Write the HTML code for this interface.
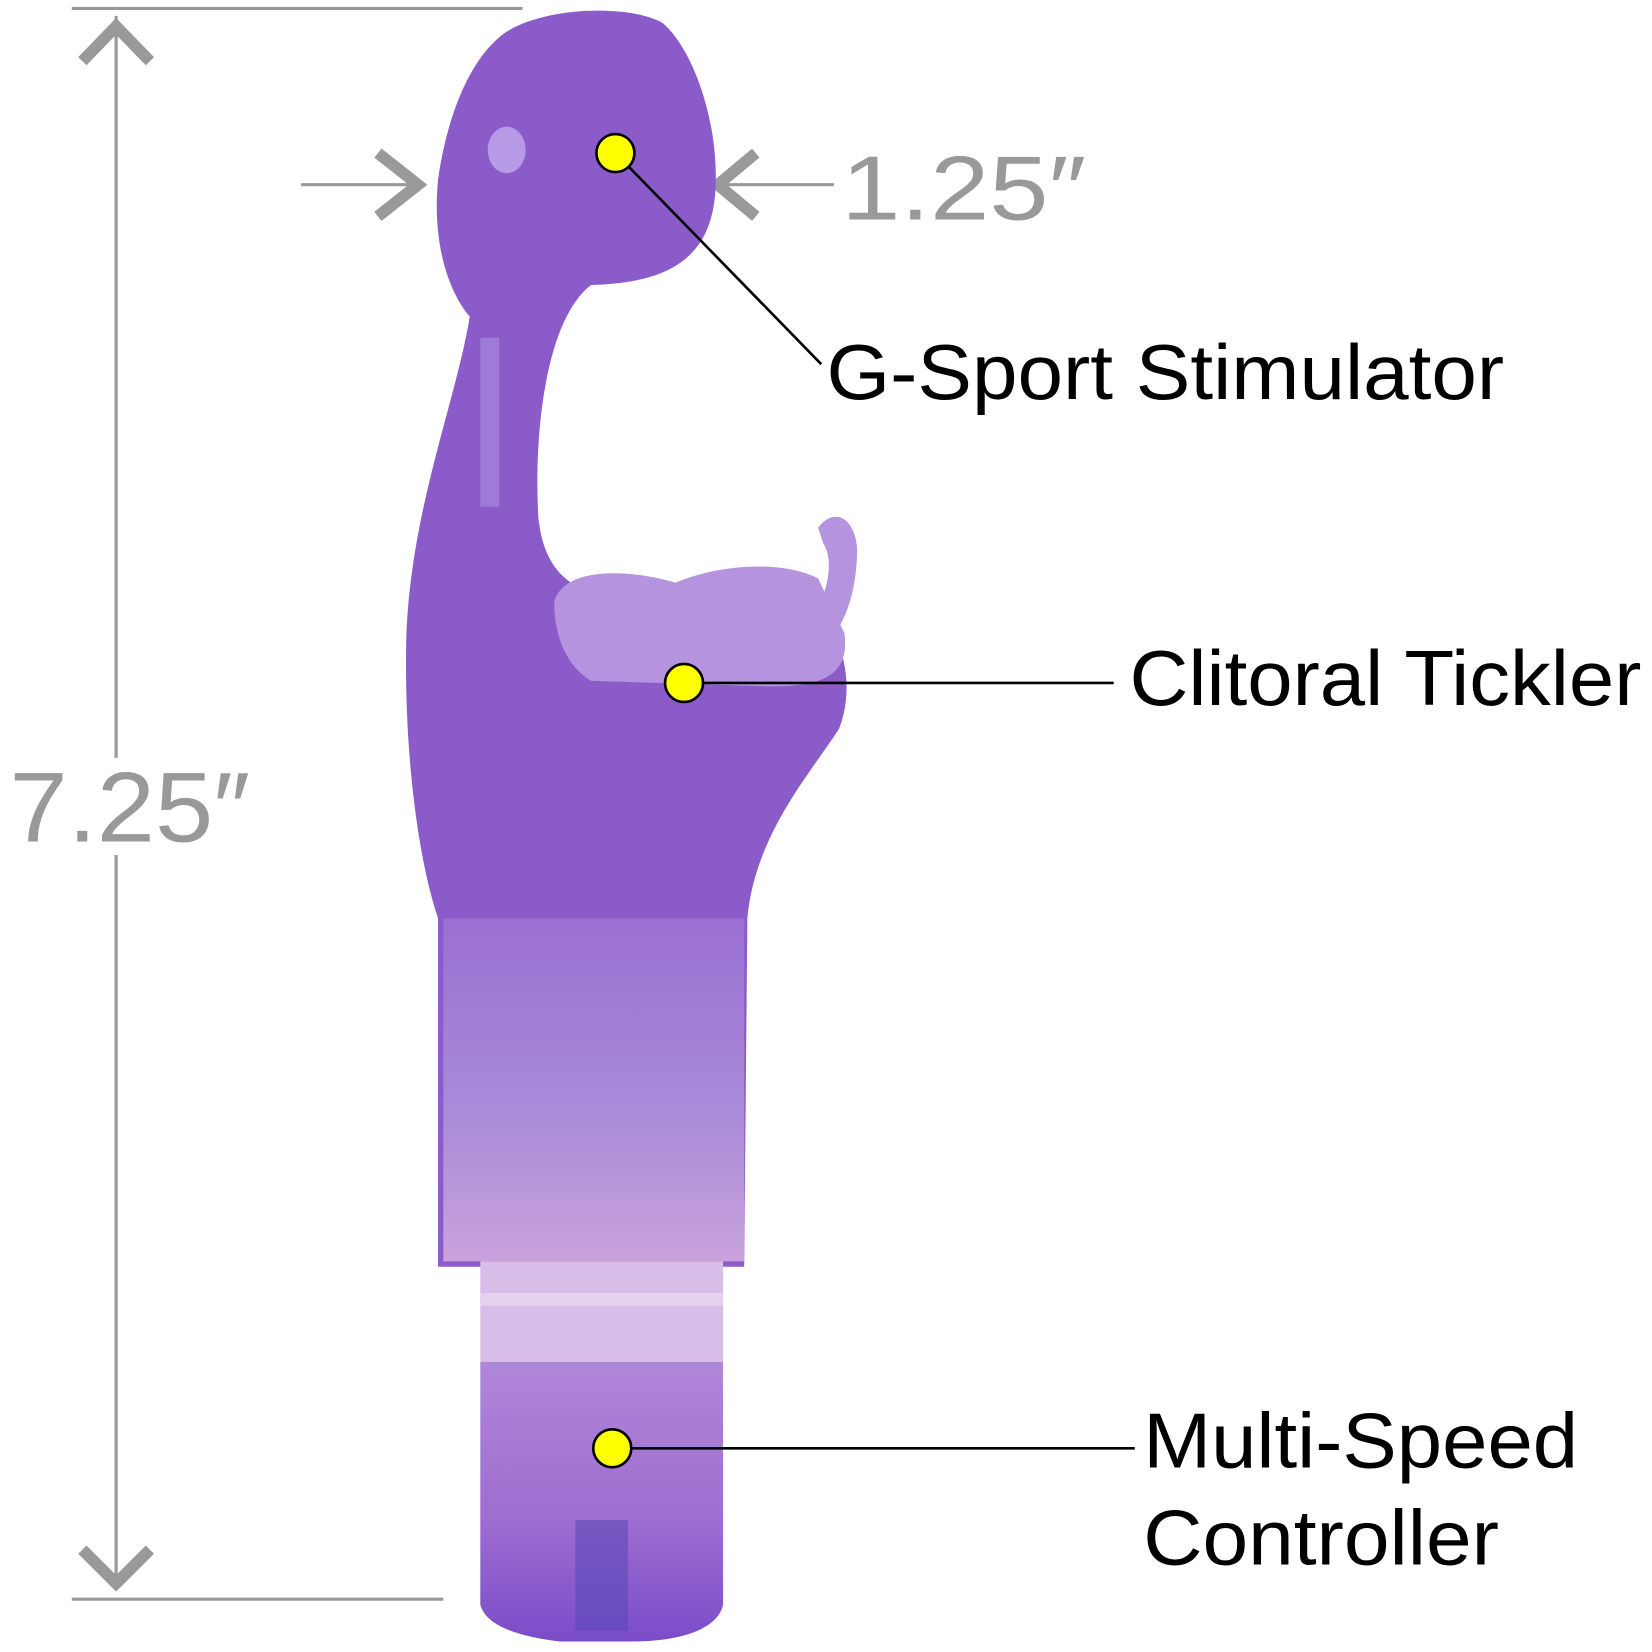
<!DOCTYPE html>
<html><head><meta charset="utf-8"><style>
html,body{margin:0;padding:0;background:#fff;width:1652px;height:1652px;overflow:hidden}
svg{display:block}
text{font-family:"Liberation Sans",sans-serif}
</style></head><body>
<svg width="1652" height="1652" viewBox="0 0 1565 1565" xmlns="http://www.w3.org/2000/svg">
<defs>
<linearGradient id="sl" x1="0" y1="0" x2="0" y2="1">
<stop offset="0" stop-color="#9a6fd2"/><stop offset="0.55" stop-color="#a98ad8"/><stop offset="1" stop-color="#c9a2dc"/>
</linearGradient>
<linearGradient id="ct" x1="0" y1="0" x2="0" y2="1">
<stop offset="0" stop-color="#b187d8"/><stop offset="0.6" stop-color="#9c6bd0"/><stop offset="1" stop-color="#7a4cc8"/>
</linearGradient>
</defs>
<g stroke="#999" fill="none">
<line x1="68" y1="8" x2="495" y2="8" stroke-width="3"/>
<line x1="110" y1="15" x2="110" y2="1505" stroke-width="3"/>
<line x1="68" y1="1515" x2="420" y2="1515" stroke-width="3"/>
<polyline points="78,58 110,25 142,58" stroke-width="11"/>
<polyline points="78,1468 110,1500 142,1468" stroke-width="11"/>
<line x1="285" y1="175" x2="398" y2="175" stroke-width="3"/>
<polyline points="358,145 396,175 358,205" stroke-width="11"/>
<line x1="678" y1="175" x2="790" y2="175" stroke-width="3"/>
<polyline points="716,145 680,175 716,205" stroke-width="11"/>
</g>
<rect x="90" y="718" width="40" height="92" fill="#fff"/>
<text x="9" y="797" font-size="94" fill="#999" textLength="228" lengthAdjust="spacingAndGlyphs">7.25″</text>
<text x="797" y="208" font-size="86" fill="#999" textLength="232" lengthAdjust="spacingAndGlyphs">1.25″</text>
<path d="M480,30 C520,5 600,5 628,22 C655,45 680,110 678,175 C676,240 640,268 560,270 C520,300 505,400 510,490 C515,540 540,560 580,565 L790,600 C805,630 805,665 795,690 C770,730 715,790 708,870 L705,1200 L415,1200 L415,870 C398,820 382,720 385,600 C390,480 432,380 445,300 C420,270 410,220 415,170 C425,100 450,50 480,30 Z" fill="#8b5cc9"/>
<path d="M420,870 L705,870 L705,1195 L420,1195 Z" fill="url(#sl)"/>
<path d="M525,570 C535,535 600,540 640,552 C680,535 740,530 775,548 L800,600 C805,640 780,652 720,650 L560,645 C535,630 525,600 525,570 Z" fill="#b593de"/>
<path d="M775,500 C790,480 810,490 812,520 C812,560 800,590 790,600 L770,585 C785,560 790,530 780,515 Z" fill="#b593de"/>
<rect x="455" y="1195" width="230" height="95" fill="#d8bde8"/>
<rect x="455" y="1225" width="230" height="12" fill="#e6d2f0"/>
<path d="M455,1290 L685,1290 L685,1520 C680,1545 640,1555 600,1555 L530,1555 C490,1550 460,1540 455,1520 Z" fill="url(#ct)"/>
<rect x="545" y="1440" width="50" height="105" fill="#5a4ab8" opacity="0.6"/>
<ellipse cx="480" cy="142" rx="18" ry="22" fill="#b69ae6"/>
<rect x="455" y="320" width="18" height="160" fill="#a888dc" opacity="0.7"/>
<g stroke="#000" stroke-width="2.5" fill="none">
<polyline points="583,145 778,345"/>
<line x1="648" y1="647" x2="1055" y2="647"/>
<line x1="580" y1="1372" x2="1075" y2="1372"/>
</g>
<g fill="#ffff00" stroke="#000" stroke-width="2.5">
<circle cx="583" cy="145" r="18"/>
<circle cx="648" cy="647" r="18"/>
<circle cx="580" cy="1372" r="18"/>
</g>
<g font-size="74" fill="#000">
<text x="783" y="378" textLength="642" lengthAdjust="spacingAndGlyphs">G-Sport Stimulator</text>
<text x="1070" y="668" textLength="485" lengthAdjust="spacingAndGlyphs">Clitoral Tickler</text>
<text x="1083" y="1390" textLength="412" lengthAdjust="spacingAndGlyphs">Multi-Speed</text>
<text x="1083" y="1482" textLength="337" lengthAdjust="spacingAndGlyphs">Controller</text>
</g>
</svg>
</body></html>
